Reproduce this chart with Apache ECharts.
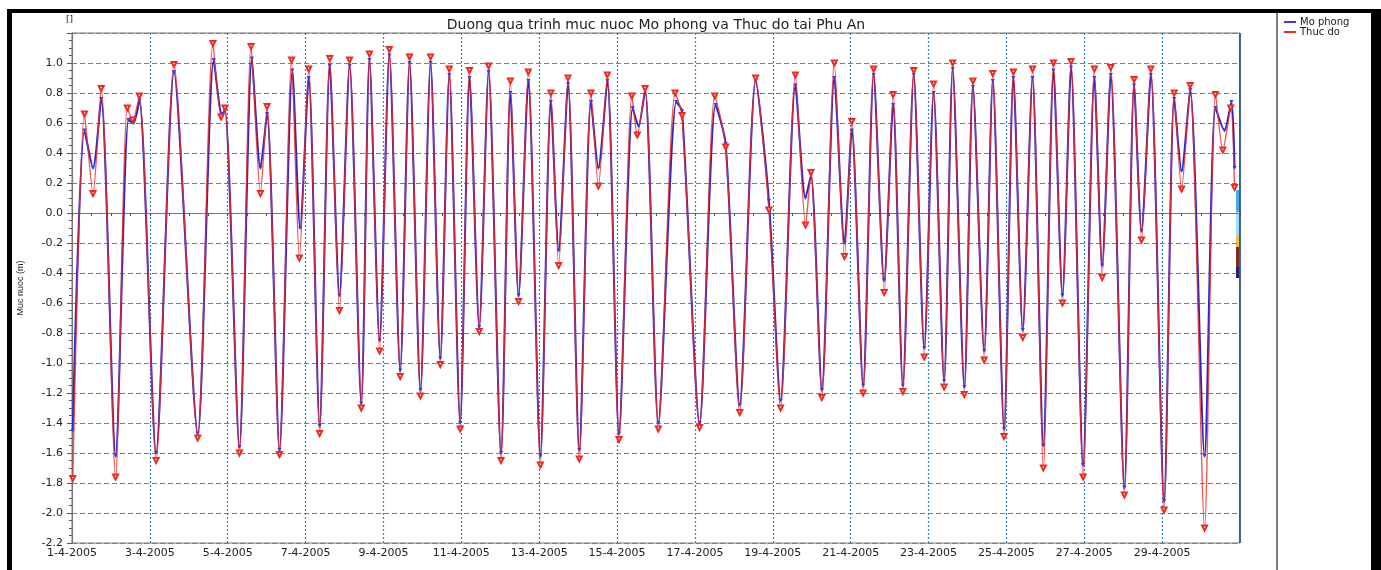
<!DOCTYPE html>
<html>
<head>
<meta charset="utf-8">
<script src="https://cdn.jsdelivr.net/npm/echarts@6/dist/echarts.min.js"></script>
<style>
html,body{margin:0;padding:0;background:#fff;}
#chart{width:1381px;height:570px;}
</style>
</head>
<body>
<div id="chart"></div>
<script>
// Time in days since 1-4-2005 00:00, water level in m
const thucDoDays = [0.02,0.32,0.54,0.75,1.12,1.42,1.56,1.73,2.16,2.62,3.23,3.62,3.83,3.93,4.30,4.60,4.84,5.01,5.33,5.64,5.84,6.08,6.36,6.62,6.87,7.13,7.43,7.64,7.90,8.15,8.43,8.67,8.95,9.21,9.46,9.69,9.97,10.21,10.46,10.70,11.02,11.26,11.47,11.72,12.03,12.30,12.50,12.74,13.03,13.33,13.52,13.75,14.05,14.38,14.52,14.72,15.06,15.49,15.67,16.12,16.51,16.79,17.15,17.56,17.90,18.20,18.58,18.84,18.98,19.26,19.58,19.84,20.03,20.32,20.59,20.86,21.09,21.34,21.62,21.89,22.13,22.40,22.62,22.92,23.14,23.43,23.65,23.94,24.18,24.42,24.67,24.95,25.21,25.44,25.66,25.97,26.26,26.46,26.68,27.03,27.28,27.47,27.71,28.05,28.31,28.50,28.72,29.09,29.37,29.56,29.76,29.86];
const thucDoLevel = [-1.77,0.66,0.13,0.83,-1.76,0.70,0.62,0.78,-1.65,0.99,-1.50,1.13,0.64,0.70,-1.60,1.11,0.13,0.71,-1.61,1.02,-0.30,0.96,-1.47,1.03,-0.65,1.02,-1.30,1.06,-0.92,1.09,-1.09,1.04,-1.22,1.04,-1.01,0.96,-1.44,0.95,-0.79,0.98,-1.65,0.88,-0.59,0.94,-1.68,0.80,-0.35,0.90,-1.64,0.80,0.18,0.92,-1.51,0.78,0.52,0.83,-1.44,0.80,0.65,-1.43,0.78,0.44,-1.33,0.90,0.02,-1.30,0.92,-0.08,0.27,-1.23,1.00,-0.29,0.61,-1.20,0.96,-0.53,0.79,-1.19,0.95,-0.96,0.86,-1.16,1.00,-1.21,0.88,-0.98,0.93,-1.49,0.94,-0.83,0.96,-1.70,1.00,-0.60,1.01,-1.76,0.96,-0.43,0.97,-1.88,0.89,-0.18,0.96,-1.98,0.80,0.16,0.85,-2.10,0.79,0.42,0.70,0.17];

const moPhongDays = [0.02,0.32,0.54,0.75,1.12,1.45,1.58,1.73,2.16,2.62,3.23,3.64,3.85,3.93,4.30,4.62,4.84,5.01,5.33,5.66,5.86,6.08,6.36,6.62,6.87,7.13,7.43,7.64,7.90,8.15,8.43,8.67,8.95,9.21,9.46,9.69,9.97,10.21,10.46,10.70,11.02,11.26,11.47,11.72,12.03,12.30,12.50,12.74,13.03,13.33,13.52,13.75,14.05,14.40,14.55,14.72,15.06,15.52,15.67,16.12,16.53,16.79,17.15,17.56,17.90,18.20,18.58,18.84,18.98,19.26,19.58,19.84,20.03,20.32,20.59,20.86,21.09,21.34,21.62,21.89,22.13,22.40,22.62,22.92,23.14,23.43,23.65,23.94,24.18,24.42,24.67,24.95,25.21,25.44,25.66,25.97,26.26,26.46,26.68,27.03,27.28,27.47,27.71,28.05,28.31,28.50,28.72,29.09,29.37,29.60,29.78,29.86];
const moPhongLevel = [-1.45,0.55,0.30,0.76,-1.62,0.62,0.60,0.75,-1.60,0.94,-1.47,1.02,0.66,0.68,-1.56,1.03,0.30,0.66,-1.58,0.95,-0.10,0.90,-1.42,0.98,-0.55,0.98,-1.27,1.02,-0.85,1.05,-1.05,1.00,-1.18,1.00,-0.97,0.92,-1.40,0.90,-0.76,0.94,-1.60,0.80,-0.55,0.88,-1.62,0.74,-0.25,0.86,-1.58,0.74,0.30,0.88,-1.47,0.70,0.58,0.82,-1.40,0.74,0.68,-1.40,0.72,0.46,-1.28,0.88,0.08,-1.25,0.85,0.10,0.25,-1.18,0.90,-0.20,0.55,-1.15,0.92,-0.45,0.72,-1.15,0.92,-0.90,0.80,-1.12,0.96,-1.16,0.84,-0.92,0.88,-1.44,0.90,-0.78,0.90,-1.55,0.95,-0.55,0.97,-1.68,0.90,-0.35,0.92,-1.83,0.85,-0.12,0.92,-1.92,0.76,0.28,0.82,-1.62,0.70,0.55,0.74,0.30];

const seriesNames = ['Mo phong', 'Thuc do'];
const titleText = 'Duong qua trinh muc nuoc Mo phong va Thuc do tai Phu An';
const yAxisTitle = 'Muc nuoc (m)';
const monthLabel = '4-2005';

const font = 'DejaVu Sans, Liberation Sans, sans-serif';
const chart = echarts.init(document.getElementById('chart'), null, {renderer: 'canvas'});

const toPairs = (d, v) => d.map((x, i) => [x, v[i]]);

chart.setOption({
  animation: false,
  backgroundColor: '#fff',
  title: {
    text: titleText, left: 656, top: 18, textAlign: 'center', padding: 0,
    textStyle: {fontFamily: font, fontSize: 14, fontWeight: 'normal', color: '#222'}
  },
  legend: {
    orient: 'vertical', left: 1284, top: 17, itemWidth: 12, itemHeight: 2, itemGap: 0,
    icon: 'rect', padding: 0,
    textStyle: {fontFamily: font, fontSize: 10, lineHeight: 10, color: '#222', padding: [0,0,0,-1]},
    data: seriesNames
  },
  grid: {left: 72, right: 141, top: 33, bottom: 27, show: true, borderColor: '#777', borderWidth: 1},
  xAxis: {
    type: 'value', min: 0, max: 30, interval: 2,
    axisLine: {show: true, lineStyle: {color: '#777'}},
    axisTick: {show: true, length: 3, lineStyle: {color: '#555'}},
    minorTick: {show: true, splitNumber: 4, length: 3, lineStyle: {color: '#555'}},
    axisLabel: {
      fontFamily: font, fontSize: 11, color: '#222', margin: 5,
      formatter: v => v >= 30 ? '' : (Math.round(v) + 1) + '-' + monthLabel
    },
    splitLine: {show: true, lineStyle: {color: '#2f82c4', type: [2, 2], width: 1.2}}
  },
  yAxis: {
    type: 'value', min: -2.2, max: 1.2, interval: 0.2,
    axisLine: {show: true, lineStyle: {color: '#777'}},
    axisTick: {show: true, length: 5, lineStyle: {color: '#555'}},
    minorTick: {show: true, splitNumber: 4, length: 3, lineStyle: {color: '#555'}},
    axisLabel: {
      fontFamily: font, fontSize: 11, color: '#222', margin: 9,
      formatter: v => v > 1.1 ? '' : (Math.abs(v) < 1e-9 ? '0.0' : v.toFixed(1))
    },
    splitLine: {show: true, lineStyle: {color: '#3a92cc', type: [5, 3], width: 1.2}}
  },
  series: [
    {
      name: seriesNames[0], type: 'line', data: toPairs(moPhongDays, moPhongLevel),
      smooth: 0.25, symbol: 'triangle', symbolSize: 4, symbolRotate: 180,
      lineStyle: {color: '#2a22cc', width: 2}, itemStyle: {color: '#3a3ae0'}
    },
    {
      name: seriesNames[1], type: 'line', data: toPairs(thucDoDays, thucDoLevel),
      smooth: 0.25, symbol: 'emptyTriangle', symbolSize: 5, symbolRotate: 180,
      lineStyle: {color: '#ee2a22', width: 1.4, opacity: 0.8}, itemStyle: {color: '#ee2a22', borderWidth: 1}
    }
  ],
  graphic: [
    {type: 'rect', shape: {x: 7, y: 9, width: 1374, height: 4}, style: {fill: '#000'}},
    {type: 'rect', shape: {x: 7, y: 9, width: 5, height: 561}, style: {fill: '#000'}},
    {type: 'rect', shape: {x: 1371, y: 9, width: 10, height: 561}, style: {fill: '#000'}},
    {type: 'line', shape: {x1: 1277, y1: 13, x2: 1277, y2: 570}, style: {stroke: '#555', lineWidth: 1.5}},
    {type: 'line', shape: {x1: 1240, y1: 33, x2: 1240, y2: 543}, style: {stroke: '#555', lineWidth: 2}},
    {type: 'rect', shape: {x: 1236, y: 190, width: 3, height: 22}, style: {fill: '#4aa8e6'}},
    {type: 'rect', shape: {x: 1236, y: 212, width: 3, height: 23}, style: {fill: '#9be0f0'}},
    {type: 'rect', shape: {x: 1236, y: 235, width: 3, height: 12}, style: {fill: '#e8c24a'}},
    {type: 'rect', shape: {x: 1236, y: 247, width: 3, height: 20}, style: {fill: '#8a2a1e'}},
    {type: 'rect', shape: {x: 1236, y: 267, width: 3, height: 11}, style: {fill: '#1c1c6a'}},
    {type: 'text', x: 66, y: 20, style: {text: '[]', font: '9px ' + font, fill: '#222', textAlign: 'left', textVerticalAlign: 'middle'}},
    {type: 'text', x: 21, y: 288, rotation: Math.PI / 2,
     style: {text: yAxisTitle, font: '9px Liberation Sans Narrow, Liberation Sans, sans-serif', fill: '#222', textAlign: 'center', textVerticalAlign: 'middle'}}
  ]
});
</script>
</body>
</html>
